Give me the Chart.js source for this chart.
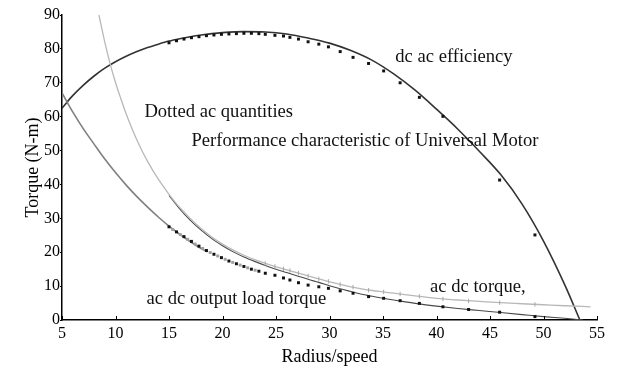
<!DOCTYPE html>
<html>
<head>
<meta charset="utf-8">
<script src="https://cdn.jsdelivr.net/npm/chart.js@4/dist/chart.umd.min.js"></script>
<style>
html,body{margin:0;padding:0;background:#fff;}
#wrap{width:621px;height:366px;}
</style>
</head>
<body>
<div id="wrap"><canvas id="c" width="621" height="366"></canvas></div>
<script>
// ---- data ----
const xTickValues = [5,10,15,20,25,30,35,40,45,50,55];
const yTickValues = [0,10,20,30,40,50,60,70,80,90];

const dcSpeed = [5,6,7,8,9,10,11,12,13,14,15,16,17,18,19,20,22,24,26,28,30,32,34,36,38,40,42,44,46,48,50,52,53.4];
const dcEfficiency = [62.5,66.2,69.3,72,74.3,76.2,77.8,79.2,80.4,81.4,82.3,83,83.6,84.1,84.5,84.8,85.1,85,84.4,83.2,81.7,79.5,76.6,72.6,67.8,62.2,56.3,49.8,42.9,34.2,23.3,10.3,0];

const lightSpeed = [8.45,9,9.5,10,10.5,11,11.5,12,12.5,13,13.5,14,14.5,15,15.5,16,17,18,19,20,21,22,23,24,25,26,27,28,29,30,31,32,33,34,35,36,38,40,42,44,46,48,50,52,54.4];
const lightTorque = [90,82,75.6,70.1,65.3,60.8,56.8,53.1,49.8,46.8,44.1,41.6,39.3,37.1,35.1,33.2,29.9,27.0,24.5,22.4,20.6,19.1,17.8,16.7,15.7,14.8,13.9,13,12.1,11.3,10.5,9.8,9.2,8.7,8.3,7.9,7.1,6.4,5.9,5.5,5.1,4.8,4.5,4.2,3.9];

const darkSpeed = [15,16,17,18,19,20,21,22,23,24,25,26,27,28,29,30,31,32,33,34,35,36,38,40,42,44,46,48,50,52,53.7];
const darkTorque = [36.8,32.8,29.4,26.5,24.0,21.9,20.1,18.6,17.3,16.1,15.0,14.0,13.0,12.0,11.1,10.1,9.2,8.4,7.6,7.0,6.4,5.9,4.9,4.1,3.4,2.8,2.2,1.6,1.0,0.5,0];

const loadSpeed = [5,6,7,8,9,10,11,12,13,14,15,16,17,18,18.6];
const loadTorque = [67,61.4,56.4,51.9,47.5,43.5,39.8,36.4,33.3,30.4,27.7,25.3,23.1,21.1,20.1];

const acSpeed = [15,15.7,16.4,17.1,17.8,18.5,19.2,19.9,20.6,21.3,22,22.7,23.4,24.0,24.9,25.7,26.3,27.1,28.0,29.0,29.9,31.0,32.2,33.65,35.06,36.6,38.4,40.6,43.0,45.9,49.2];
const acEfficiency = [81.8,82.4,82.9,83.3,83.6,83.9,84.1,84.3,84.4,84.5,84.6,84.6,84.5,84.3,84.0,83.8,83.4,82.9,82.1,81.4,80.6,79.2,77.5,75.7,73.5,70.0,65.7,60.1,null,41.3,25.1];
const acTorque = [null,null,null,null,null,null,null,null,null,null,null,null,null,16.7,15.8,15.1,14.6,13.8,13.0,12.1,11.4,10.5,9.7,8.8,8.3,7.7,7.0,6.2,5.6,5.1,4.6];
const acLoadTorque = [27.5,26,24.6,23.2,21.8,20.5,19.4,18.4,17.4,16.6,15.8,15.0,14.4,13.8,13.2,12.4,11.8,11.0,10.3,9.8,9.35,8.6,7.9,6.9,6.4,5.7,4.9,3.9,3.1,2.3,1.0];

const acGreySpeed = [15.35,16.05,16.75,17.45,18.15,18.85,19.55,20.25,20.95,21.65,22.35,23.05];
const acGreyTorque = [26.7,25.2,23.8,22.4,21.1,19.9,18.9,17.9,17.0,16.2,15.4,14.7];

const notes = [
  {text:'dc ac efficiency', x:36.15, y:77.6},
  {text:'Dotted ac quantities', x:12.7, y:61.4},
  {text:'Performance characteristic of Universal Motor', x:17.1, y:52.8},
  {text:'ac dc torque,', x:39.4, y:9.8},
  {text:'ac dc output load torque', x:12.9, y:6.2}
];

// ---- helpers ----
const pts = (xs, ys) => xs.map((x, i) => ({x: x, y: ys[i]}));
const SERIF = '"Liberation Serif", "Times New Roman", serif';

const annotate = {
  id: 'annotate',
  afterDatasetsDraw(chart) {
    const {ctx, scales: {x, y}} = chart;
    ctx.save();
    ctx.fillStyle = '#111';
    ctx.font = '18.6px ' + SERIF;
    ctx.textAlign = 'left';
    ctx.textBaseline = 'middle';
    notes.forEach(n => ctx.fillText(n.text, x.getPixelForValue(n.x), y.getPixelForValue(n.y)));
    ctx.restore();
  },
  afterDraw(chart) {
    const {ctx, scales: {x}, chartArea} = chart;
    ctx.save();
    ctx.strokeStyle = '#000';
    ctx.lineWidth = 1;
    x.ticks.forEach(t => {
      const px = Math.round(x.getPixelForValue(t.value)) + 0.5;
      ctx.beginPath();
      ctx.moveTo(px, chartArea.bottom);
      ctx.lineTo(px, chartArea.bottom - 4);
      ctx.stroke();
    });
    ctx.restore();
  }
};

const lineDs = (data, color, width) => ({
  type: 'line', data: data, borderColor: color, borderWidth: width,
  pointRadius: 0, fill: false, cubicInterpolationMode: 'monotone', order: 5
});
const dotDs = (data, color, style, r) => ({
  type: 'line', data: data, showLine: false, pointStyle: style, pointRadius: r,
  backgroundColor: color, borderColor: color, borderWidth: style === 'line' ? 1 : 0, order: 1,
  pointRotation: style === 'line' ? 90 : 0
});

new Chart(document.getElementById('c'), {
  type: 'line',
  data: {
    datasets: [
      lineDs(pts(lightSpeed, lightTorque), '#b8b8b8', 1.3),
      lineDs(pts(darkSpeed, darkTorque), '#4a4a4a', 1.1),
      lineDs(pts(loadSpeed, loadTorque), '#808080', 1.6),
      lineDs(pts(dcSpeed, dcEfficiency), '#333333', 1.6),
      dotDs(pts(acSpeed, acEfficiency), '#111', 'rect', 2.1),
      dotDs(pts(acSpeed, acTorque), '#a8a8a8', 'line', 2.2),
      dotDs(pts(acSpeed, acLoadTorque), '#111', 'rect', 2.1),
      dotDs(pts(acGreySpeed, acGreyTorque), '#a0a0a0', 'rect', 2.1)
    ]
  },
  options: {
    responsive: false,
    animation: false,
    devicePixelRatio: 1,
    layout: {padding: {left: 0, right: 24, top: 15, bottom: 0}},
    plugins: {legend: {display: false}, tooltip: {enabled: false}},
    scales: {
      x: {
        type: 'linear', min: 5, max: 55,
        afterBuildTicks: s => { s.ticks = xTickValues.map(v => ({value: v})); },
        afterFit: s => { s.height = 46; },
        grid: {display: false, drawTicks: false},
        border: {display: true, color: '#000', width: 1.5},
        ticks: {color: '#000', padding: 4, maxRotation: 0, font: {family: SERIF, size: 16}},
        title: {display: true, text: 'Radius/speed', color: '#000', padding: {top: 0, bottom: -2}, font: {family: SERIF, size: 18}}
      },
      y: {
        type: 'linear', min: 0, max: 90,
        afterBuildTicks: s => { s.ticks = yTickValues.map(v => ({value: v})); },
        afterFit: s => { s.width = 62; },
        grid: {display: true, drawOnChartArea: false, drawTicks: true, tickLength: 2, color: '#000', lineWidth: 1},
        border: {display: true, color: '#000', width: 1.5},
        ticks: {color: '#000', padding: 0, font: {family: SERIF, size: 16}},
        title: {display: true, text: 'Torque (N-m)', color: '#000', padding: {top: 22, bottom: 0}, font: {family: SERIF, size: 18}}
      }
    }
  },
  plugins: [annotate]
});
</script>
</body>
</html>
